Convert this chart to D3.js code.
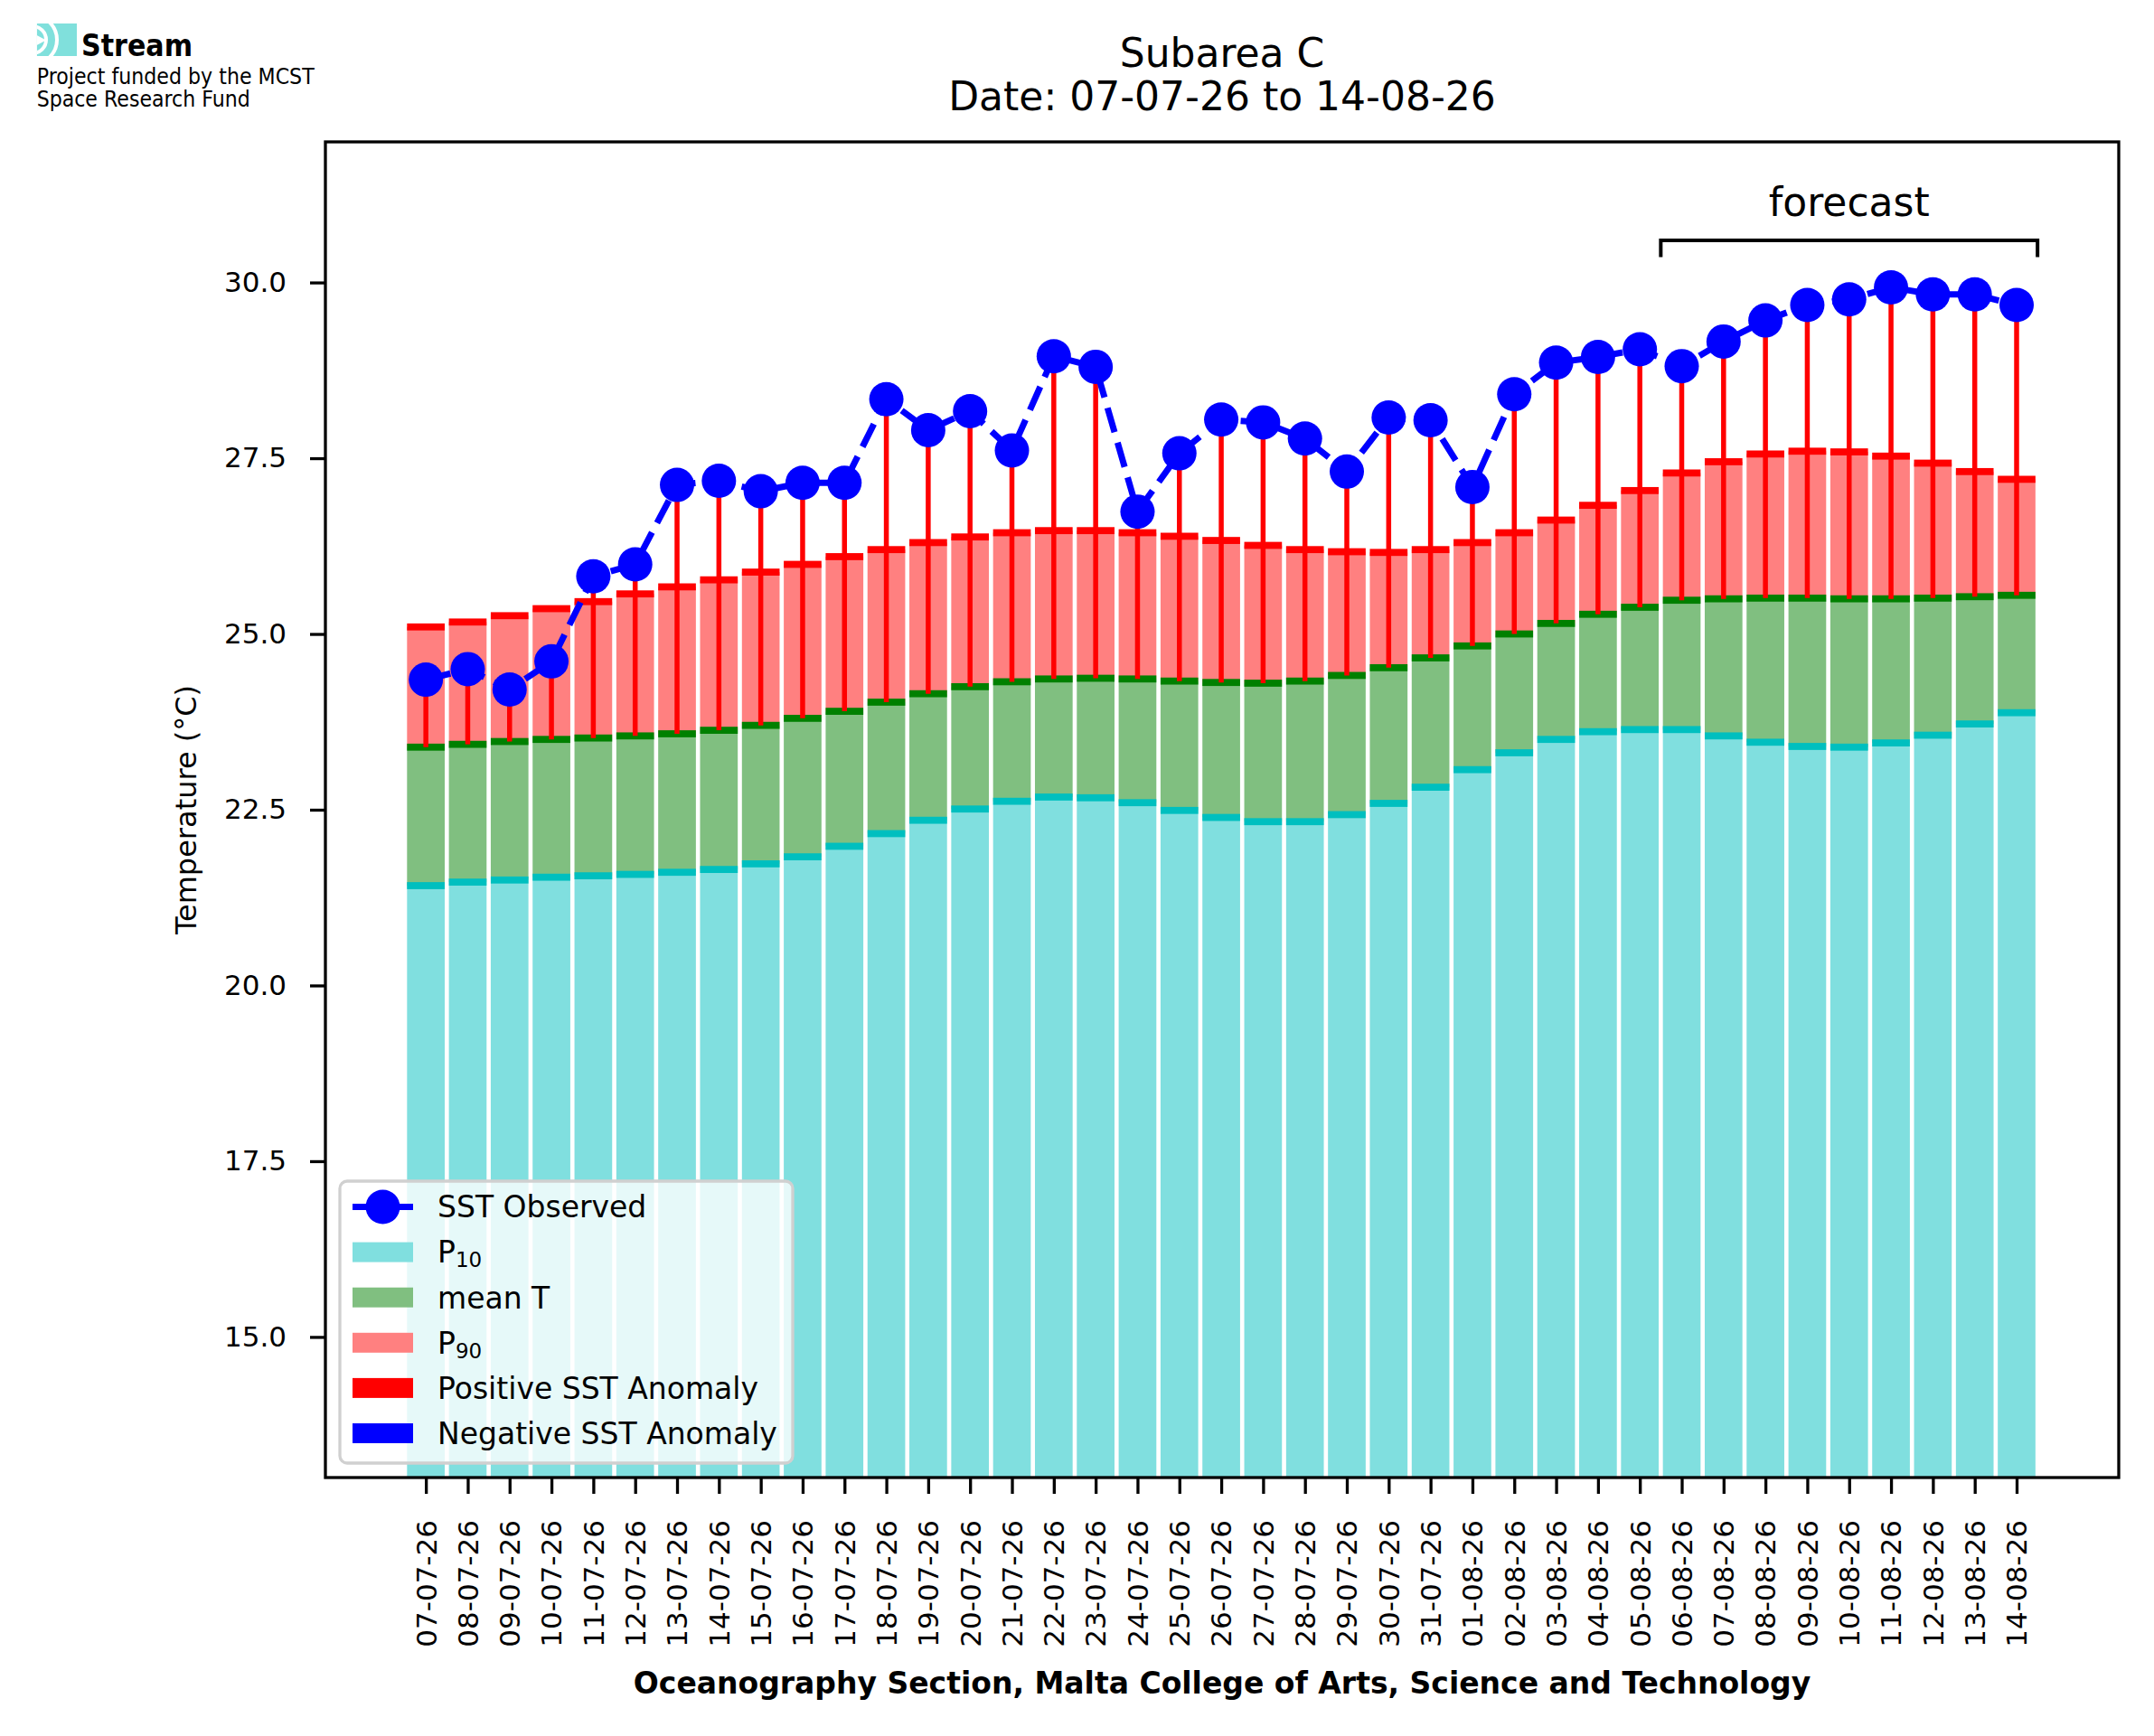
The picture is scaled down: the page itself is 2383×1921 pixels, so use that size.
<!DOCTYPE html>
<html>
<head>
<meta charset="utf-8">
<script src="https://cdnjs.cloudflare.com/ajax/libs/d3/7.8.5/d3.min.js"></script>
<style>
  body { margin: 0; background: #ffffff; }
  text { font-family: "DejaVu Sans", sans-serif; fill: #000; }
</style>
</head>
<body>
<div id="chart"></div>
<script>
// Data
const dates = [
  "07-07-26", "08-07-26", "09-07-26", "10-07-26", "11-07-26", "12-07-26", "13-07-26",
  "14-07-26", "15-07-26", "16-07-26", "17-07-26", "18-07-26", "19-07-26", "20-07-26",
  "21-07-26", "22-07-26", "23-07-26", "24-07-26", "25-07-26", "26-07-26", "27-07-26",
  "28-07-26", "29-07-26", "30-07-26", "31-07-26", "01-08-26", "02-08-26", "03-08-26",
  "04-08-26", "05-08-26", "06-08-26", "07-08-26", "08-08-26", "09-08-26", "10-08-26",
  "11-08-26", "12-08-26", "13-08-26", "14-08-26"
];
const sstObserved = [
  24.35, 24.50, 24.21, 24.61, 25.82, 25.99, 27.12, 27.18, 27.03, 27.15,
  27.15, 28.34, 27.90, 28.17, 27.61, 28.95, 28.80, 26.74, 27.57, 28.05,
  28.01, 27.78, 27.31, 28.08, 28.04, 27.09, 28.41, 28.86, 28.94, 29.05,
  28.81, 29.16, 29.46, 29.68, 29.76, 29.93, 29.83, 29.83, 29.68
];
const p10 = [
  21.42, 21.47, 21.50, 21.54, 21.56, 21.58, 21.61, 21.65, 21.73, 21.83,
  21.98, 22.16, 22.35, 22.51, 22.62, 22.68, 22.67, 22.60, 22.49, 22.39,
  22.33, 22.33, 22.43, 22.59, 22.82, 23.07, 23.31, 23.50, 23.61, 23.64,
  23.64, 23.55, 23.46, 23.40, 23.39, 23.45, 23.56, 23.72, 23.88
];
const meanT = [
  23.39, 23.43, 23.47, 23.50, 23.52, 23.55, 23.58, 23.63, 23.70, 23.80,
  23.90, 24.03, 24.15, 24.25, 24.32, 24.36, 24.37, 24.36, 24.33, 24.31,
  24.30, 24.33, 24.41, 24.52, 24.66, 24.83, 25.00, 25.15, 25.28, 25.38,
  25.48, 25.50, 25.51, 25.51, 25.50, 25.50, 25.51, 25.53, 25.55
];
const p90 = [
  25.10, 25.17, 25.26, 25.36, 25.46, 25.57, 25.67, 25.77, 25.88, 25.99,
  26.10, 26.20, 26.30, 26.38, 26.44, 26.47, 26.47, 26.44, 26.39, 26.33,
  26.26, 26.20, 26.17, 26.16, 26.20, 26.30, 26.44, 26.62, 26.83, 27.04,
  27.29, 27.45, 27.56, 27.60, 27.59, 27.53, 27.43, 27.31, 27.20
];
const yTicks = [15.0, 17.5, 20.0, 22.5, 25.0, 27.5, 30.0];
const forecastRange = [29.5, 38.5];

// Colors
const p10_color = "#80dfdf", p10_edge = "#00bfbf";
const mean_color = "#80bf80", mean_edge = "#008000";
const p90_color = "#ff8080", p90_edge = "#ff0000";
const pos_color = "#ff0000", neg_color = "#0000ff";
const sst_color = "#0000ff";

// Dimensions
const W = 2383, H = 1921;
const margin = { top: 157, right: 39, bottom: 286, left: 360 };
const width = W - margin.left - margin.right;
const height = H - margin.top - margin.bottom;

const root = d3.select("#chart").append("svg")
  .attr("width", W).attr("height", H)
  .style("background", "#fff");

const svg = root.append("g")
  .attr("transform", `translate(${margin.left},${margin.top})`);

const idx = d3.range(dates.length);

// Scales
const x = d3.scaleLinear().domain([-2.4, 40.44]).range([0, width]);
const y = d3.scaleLinear().domain([13, 32]).range([height, 0]);
const bw = x(0.9) - x(0);
const band = 0.1;

svg.append("clipPath").attr("id", "plot-clip")
  .append("rect").attr("width", width).attr("height", height);

const plot = svg.append("g").attr("clip-path", "url(#plot-clip)");

// Stacked layers: P10 from bottom, mean from P10, P90 from mean
const layers = [
  { lo: i => y.domain()[0], hi: i => p10[i], fill: p10_color },
  { lo: i => p10[i], hi: i => meanT[i], fill: mean_color },
  { lo: i => meanT[i], hi: i => p90[i], fill: p90_color }
];
layers.forEach(L => {
  plot.append("g").selectAll("rect")
    .data(idx).enter().append("rect")
    .attr("x", i => x(i) - bw / 2)
    .attr("width", bw)
    .attr("y", i => y(L.hi(i)))
    .attr("height", i => y(L.lo(i)) - y(L.hi(i)))
    .attr("fill", L.fill);
});

// Thin dark bands at each level
[[p10, p10_edge], [meanT, mean_edge], [p90, p90_edge]].forEach(([vals, col]) => {
  plot.append("g").selectAll("rect")
    .data(idx).enter().append("rect")
    .attr("x", i => x(i) - bw / 2)
    .attr("width", bw)
    .attr("y", i => y(vals[i] + band / 2))
    .attr("height", i => y(vals[i] - band / 2) - y(vals[i] + band / 2))
    .attr("fill", col);
});

// Anomaly lines (mean -> observed)
plot.append("g").selectAll("line")
  .data(idx).enter().append("line")
  .attr("x1", i => x(i)).attr("x2", i => x(i))
  .attr("y1", i => y(meanT[i])).attr("y2", i => y(sstObserved[i]))
  .attr("stroke", i => sstObserved[i] >= meanT[i] ? pos_color : neg_color)
  .attr("stroke-width", 5.5);

// SST observed line
const line = d3.line().x(i => x(i)).y(i => y(sstObserved[i]));
plot.append("path")
  .datum(idx)
  .attr("d", line)
  .attr("fill", "none")
  .attr("stroke", sst_color)
  .attr("stroke-width", 7)
  .attr("stroke-dasharray", "28,12");

plot.append("g").selectAll("circle")
  .data(idx).enter().append("circle")
  .attr("cx", i => x(i))
  .attr("cy", i => y(sstObserved[i]))
  .attr("r", 19)
  .attr("fill", sst_color);

// Forecast bracket
svg.append("path")
  .attr("d", `M${x(forecastRange[0])},${y(30.36)}V${y(30.6)}H${x(forecastRange[1])}V${y(30.36)}`)
  .attr("fill", "none")
  .attr("stroke", "#000")
  .attr("stroke-width", 4);

svg.append("text")
  .attr("x", x((forecastRange[0] + forecastRange[1]) / 2))
  .attr("y", y(30.95))
  .attr("text-anchor", "middle")
  .style("font-size", "44px")
  .text("forecast");

// Axes
const yAxis = svg.append("g")
  .call(d3.axisLeft(y).tickValues(yTicks).tickFormat(d3.format(".1f")).tickSize(17).tickPadding(26));
yAxis.select(".domain").remove();
yAxis.selectAll("line").attr("stroke-width", 3.3);
yAxis.selectAll("text").style("font-size", "31px").attr("font-family", "DejaVu Sans");

const xAxis = svg.append("g")
  .attr("transform", `translate(0,${height})`)
  .call(d3.axisBottom(x).tickValues(idx).tickFormat(i => dates[i]).tickSize(18));
xAxis.select(".domain").remove();
xAxis.selectAll("line").attr("stroke-width", 3.3);
xAxis.selectAll("text")
  .style("font-size", "31px")
  .attr("font-family", "DejaVu Sans")
  .attr("y", 0)
  .attr("x", -47)
  .attr("dy", "0.35em")
  .attr("transform", "rotate(-90)")
  .style("text-anchor", "end");

// Frame
svg.append("rect")
  .attr("width", width).attr("height", height)
  .attr("fill", "none")
  .attr("stroke", "#000")
  .attr("stroke-width", 3.3);

// Titles and labels
const cx = margin.left + width / 2;
root.append("text").attr("x", cx).attr("y", 74)
  .attr("text-anchor", "middle").style("font-size", "44px").text("Subarea C");
root.append("text").attr("x", cx).attr("y", 122)
  .attr("text-anchor", "middle").style("font-size", "44px").text("Date: 07-07-26 to 14-08-26");

root.append("text")
  .attr("transform", `translate(217,${margin.top + height / 2}) rotate(-90)`)
  .attr("text-anchor", "middle")
  .style("font-size", "32px")
  .text("Temperature (°C)");

root.append("text")
  .attr("x", cx).attr("y", 1874)
  .attr("text-anchor", "middle")
  .style("font-size", "33px")
  .style("font-weight", "bold")
  .text("Oceanography Section, Malta College of Arts, Science and Technology");

// Legend
const legendItems = [
  { label: "SST Observed", kind: "line", color: sst_color },
  { label: "P", sub: "10", kind: "patch", color: p10_color },
  { label: "mean T", kind: "patch", color: mean_color },
  { label: "P", sub: "90", kind: "patch", color: p90_color },
  { label: "Positive SST Anomaly", kind: "patch", color: pos_color },
  { label: "Negative SST Anomaly", kind: "patch", color: neg_color }
];
const legend = root.append("g");
legend.append("rect")
  .attr("x", 376).attr("y", 1307)
  .attr("width", 501).attr("height", 312)
  .attr("rx", 8)
  .attr("fill", "#fff").attr("fill-opacity", 0.8)
  .attr("stroke", "#d0d0d0").attr("stroke-width", 3.3);

legendItems.forEach((d, k) => {
  const ry = 1335.5 + k * 50.1;
  if (d.kind === "line") {
    legend.append("line")
      .attr("x1", 390).attr("x2", 457).attr("y1", ry).attr("y2", ry)
      .attr("stroke", d.color).attr("stroke-width", 7);
    legend.append("circle")
      .attr("cx", 423.5).attr("cy", ry).attr("r", 19).attr("fill", d.color);
  } else {
    legend.append("rect")
      .attr("x", 390).attr("y", ry - 11)
      .attr("width", 67).attr("height", 22)
      .attr("fill", d.color);
  }
  const t = legend.append("text")
    .attr("x", 484).attr("y", ry)
    .attr("dy", "0.36em")
    .style("font-size", "33px")
    .text(d.label);
  if (d.sub) {
    t.append("tspan").attr("dy", 5).style("font-size", "23px").text(d.sub);
  }
});

// Logo
const logo = root.append("g");
logo.append("clipPath").attr("id", "logo-clip")
  .append("rect").attr("x", 40.7).attr("y", 26).attr("width", 44.3).attr("height", 36);
const icon = logo.append("g").attr("clip-path", "url(#logo-clip)");
icon.append("rect").attr("x", 40.7).attr("y", 26).attr("width", 44.3).attr("height", 36)
  .attr("fill", "#80e0dc");
[15, 27].forEach(r => {
  icon.append("circle").attr("cx", 36).attr("cy", 44).attr("r", r)
    .attr("fill", "none").attr("stroke", "#fff").attr("stroke-width", 4);
});
icon.append("path").attr("d", "M40.7,39L51,44.5L40.7,50Z").attr("fill", "#fff");

logo.append("text").attr("x", 90).attr("y", 61.7)
  .attr("textLength", 123).attr("lengthAdjust", "spacingAndGlyphs")
  .style("font-size", "33px").style("font-weight", "bold").text("Stream");
logo.append("text").attr("x", 40.7).attr("y", 93.3)
  .attr("textLength", 307).attr("lengthAdjust", "spacingAndGlyphs")
  .style("font-size", "25px").text("Project funded by the MCST");
logo.append("text").attr("x", 40.7).attr("y", 118.3)
  .attr("textLength", 236).attr("lengthAdjust", "spacingAndGlyphs")
  .style("font-size", "25px").text("Space Research Fund");
</script>
</body>
</html>
